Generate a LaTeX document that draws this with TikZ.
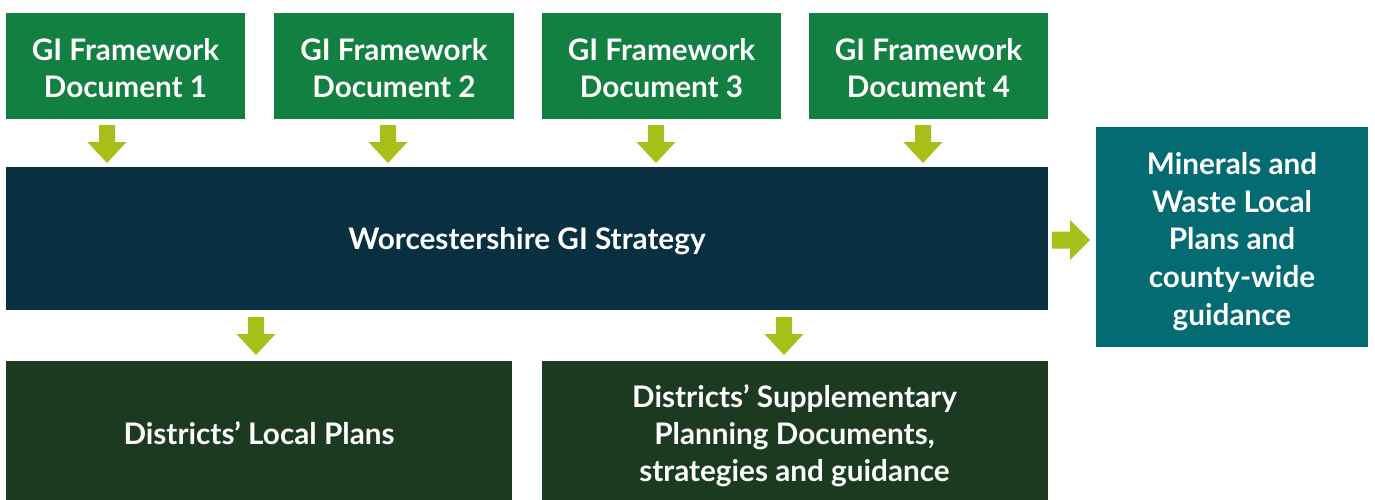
\documentclass[tikz,border=0pt]{standalone}
\usepackage{fontspec}
\setmainfont{Lato}
\definecolor{topgreen}{HTML}{128040}
\definecolor{mainblue}{HTML}{083041}
\definecolor{teal}{HTML}{046B73}
\definecolor{darkgreen}{HTML}{1B3A20}
\definecolor{lime}{HTML}{A8BF19}
\begin{document}
\begin{tikzpicture}[x=1pt,y=-1pt,
  box/.style={inner sep=0pt,outer sep=0pt},
  txt/.style={inner sep=0pt,outer sep=0pt,text=white,align=center,
    font=\fontsize{29.7}{37.7}\selectfont\bfseries},
  pics/dnarrow/.style={code={\fill[lime] (-8,0) -- (8,0) -- (8,17) -- (19.5,17) -- (0,38) -- (-19.5,17) -- (-8,17) -- cycle;}},
  pics/rtarrow/.style={code={\fill[lime] (0,-8.5) -- (18,-8.5) -- (18,-20) -- (38,0) -- (18,20) -- (18,8.5) -- (0,8.5) -- cycle;}}
]
\useasboundingbox (0,0) rectangle (1375,499);
\node[box,fill=topgreen,minimum width=239pt,minimum height=106pt] (f1) at (125.5,66) {};
\node[box,fill=topgreen,minimum width=240pt,minimum height=106pt] (f2) at (394,66) {};
\node[box,fill=topgreen,minimum width=239pt,minimum height=106pt] (f3) at (661.5,66) {};
\node[box,fill=topgreen,minimum width=239pt,minimum height=106pt] (f4) at (928.5,66) {};
\node[box,fill=mainblue,minimum width=1042pt,minimum height=143pt] (gi) at (527,238.5) {};
\node[box,fill=teal,minimum width=272pt,minimum height=220pt] (mw) at (1232,237) {};
\node[box,fill=darkgreen,minimum width=506pt,minimum height=140pt] (lp) at (259,431) {};
\node[box,fill=darkgreen,minimum width=506pt,minimum height=140pt] (sp) at (794.5,431) {};
\node[txt] (f1t) at ([yshift=-2pt]f1.center) {GI Framework\\Document 1};
\node[txt] (f2t) at ([yshift=-2pt]f2.center) {GI Framework\\Document 2};
\node[txt] (f3t) at ([yshift=-2pt]f3.center) {GI Framework\\Document 3};
\node[txt] (f4t) at ([yshift=-2pt]f4.center) {GI Framework\\Document 4};
\node[txt] (git) at ([yshift=-3pt]gi.center) {Worcestershire GI Strategy};
\node[txt] (mwt) at ([yshift=-4.5pt]mw.center) {Minerals and\\Waste Local\\Plans and\\county-wide\\guidance};
\node[txt] (lpt) at ([yshift=-2pt]lp.center) {Districts’ Local Plans};
\node[txt,font=\fontsize{29.7}{37}\selectfont\bfseries] (spt) at ([yshift=-5pt]sp.center) {Districts’ Supplementary\\Planning Documents,\\strategies and guidance};
\pic at (107,125) {dnarrow};
\pic at (388,125) {dnarrow};
\pic at (656,125) {dnarrow};
\pic at (923,125) {dnarrow};
\pic at (1052,240) {rtarrow};
\pic at (256,317) {dnarrow};
\pic at (784,317) {dnarrow};
\end{tikzpicture}
\end{document}
